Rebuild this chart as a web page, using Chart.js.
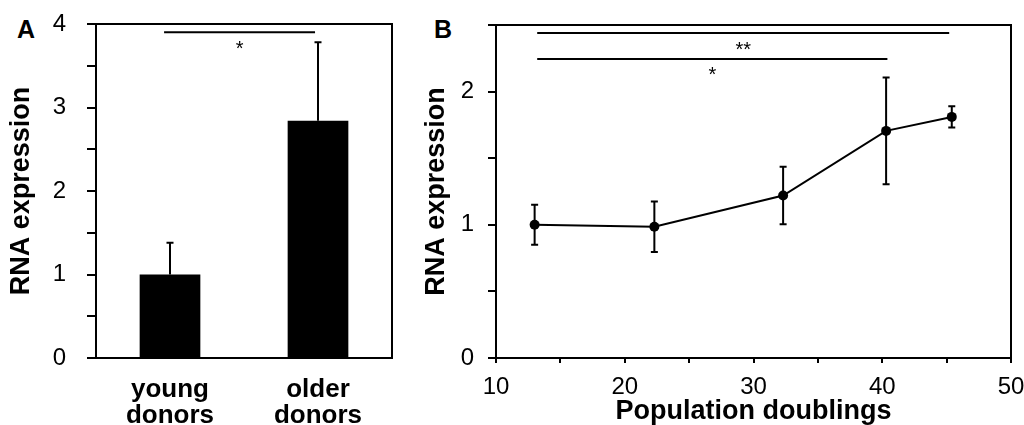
<!DOCTYPE html>
<html lang="en">
<head>
  <meta charset="UTF-8">
  <title>RNA expression</title>
  <script src="https://cdn.jsdelivr.net/npm/chart.js"></script>
  <style>
    body {
      margin: 0;
      background: #fff;
      width: 1024px;
      height: 425px;
      overflow: hidden;
      position: relative;
      font-family: Arial, "Liberation Sans", sans-serif;
    }
    .panel-label {
      position: absolute;
      font-size: 25px;
      line-height: 25px;
      font-weight: bold;
      color: #000;
    }
    #panelA { position: absolute; left: 0; top: 0; }
    #panelB { position: absolute; left: 400px; top: 0; }
  </style>
</head>
<body>
  <div class="panel-label" style="left:17px; top:17px;">A</div>
  <div class="panel-label" style="left:434px; top:17px;">B</div>
  <canvas id="panelA" width="400" height="425"></canvas>
  <canvas id="panelB" width="624" height="425"></canvas>

  <script>
    // Panel A: young vs older donors
    const donorGroups = [['young', 'donors'], ['older', 'donors']];
    const donorMeans = [1.0, 2.84];
    const donorErrors = [0.38, 0.94];
    const donorSig = [{ from: -0.04, to: 0.98, y: 3.9, label: '*' }];

    // Panel B: expression over population doublings
    const doublings = [13.0, 22.3, 32.3, 40.3, 45.4];
    const doublingMeans = [1.0, 0.985, 1.22, 1.705, 1.81];
    const doublingErrors = [0.15, 0.19, 0.215, 0.40, 0.08];
    const doublingSig = [
      { from: 13.2, to: 45.2, y: 2.44, label: '**' },
      { from: 13.2, to: 40.4, y: 2.245, label: '*' }
    ];

    const FONT = 'Arial, "Liberation Sans", sans-serif';
    Chart.defaults.font.family = FONT;
    Chart.defaults.color = '#000';

    // frame around the plot area
    const framePlugin = {
      id: 'frame',
      afterDraw(chart) {
        const a = chart.chartArea;
        const ctx = chart.ctx;
        ctx.save();
        ctx.strokeStyle = '#000';
        ctx.lineWidth = 2;
        ctx.beginPath();
        ctx.moveTo(a.left, a.top);
        ctx.lineTo(a.right, a.top);
        ctx.lineTo(a.right, a.bottom);
        ctx.stroke();
        ctx.restore();
      }
    };

    // error bars + significance brackets, drawn through the chart scales
    function makeAnnotations(xs, means, errs, sigs, upOnly) {
      return {
        id: 'annotations',
        afterDatasetsDraw(chart) {
          const ctx = chart.ctx;
          const xScale = chart.scales.x;
          const yScale = chart.scales.y;
          ctx.save();
          ctx.strokeStyle = '#000';
          ctx.lineWidth = 2;
          means.forEach((m, i) => {
            const x = xScale.getPixelForValue(xs[i]);
            const yTop = yScale.getPixelForValue(m + errs[i]);
            const yBot = yScale.getPixelForValue(upOnly ? m : m - errs[i]);
            ctx.beginPath();
            ctx.moveTo(x, yTop);
            ctx.lineTo(x, yBot);
            ctx.moveTo(x - 3.5, yTop);
            ctx.lineTo(x + 3.5, yTop);
            if (!upOnly) {
              ctx.moveTo(x - 3.5, yBot);
              ctx.lineTo(x + 3.5, yBot);
            }
            ctx.stroke();
          });
          ctx.lineWidth = 2;
          ctx.fillStyle = '#000';
          ctx.font = '20px ' + FONT;
          ctx.textAlign = 'center';
          ctx.textBaseline = 'top';
          sigs.forEach(s => {
            const x1 = xScale.getPixelForValue(s.from);
            const x2 = xScale.getPixelForValue(s.to);
            const y = yScale.getPixelForValue(s.y);
            ctx.beginPath();
            ctx.moveTo(x1, y);
            ctx.lineTo(x2, y);
            ctx.stroke();
            ctx.fillText(s.label, (x1 + x2) / 2, y + 7);
          });
          ctx.restore();
        }
      };
    }

    const axisTitleFont = { size: 27, weight: 'bold', lineHeight: 1 };

    // keep the plot area exactly where the layout padding puts it
    function fixY(scale) {
      scale.width = 96;
      scale.paddingTop = 0;
      scale.paddingBottom = 0;
    }
    function fixX(scale) {
      scale.height = 67;
      scale.paddingLeft = 0;
      scale.paddingRight = 0;
    }

    // ---- Panel A ----
    new Chart(document.getElementById('panelA').getContext('2d'), {
      type: 'bar',
      data: {
        labels: donorGroups,
        datasets: [{
          data: donorMeans,
          backgroundColor: '#000',
          borderWidth: 0,
          barPercentage: 0.41,
          categoryPercentage: 1
        }]
      },
      options: {
        responsive: false,
        animation: false,
        layout: { padding: { top: 24, right: 8, left: 0, bottom: 0 } },
        plugins: { legend: { display: false }, tooltip: { enabled: false } },
        scales: {
          x: {
            grid: { display: false, drawTicks: false },
            border: { display: true, color: '#000', width: 2 },
            ticks: {
              color: '#000',
              padding: 19,
              maxRotation: 0,
              font: { size: 26, weight: 'bold', lineHeight: 1 }
            },
            afterFit: fixX
          },
          y: {
            min: 0,
            max: 4,
            grid: { drawOnChartArea: false, drawTicks: true, tickLength: 9, color: '#000', lineWidth: 2 },
            border: { display: true, color: '#000', width: 2 },
            ticks: {
              stepSize: 0.5,
              autoSkip: false,
              padding: 21,
              color: '#000',
              font: { size: 24 },
              callback: v => Number.isInteger(v) ? v : ''
            },
            title: {
              display: true,
              text: 'RNA expression',
              color: '#000',
              font: axisTitleFont,
              padding: { top: 8, bottom: 0 }
            },
            afterFit: fixY
          }
        }
      },
      plugins: [framePlugin, makeAnnotations([0, 1], donorMeans, donorErrors, donorSig, true)]
    });

    // ---- Panel B ----
    const points = doublings.map((d, i) => ({ x: d, y: doublingMeans[i] }));

    new Chart(document.getElementById('panelB').getContext('2d'), {
      type: 'line',
      data: {
        datasets: [{
          data: points,
          borderColor: '#000',
          borderWidth: 2,
          backgroundColor: '#000',
          pointRadius: 5,
          pointBorderWidth: 0,
          tension: 0
        }]
      },
      options: {
        responsive: false,
        animation: false,
        layout: { padding: { top: 25, right: 13, left: 0, bottom: 0 } },
        plugins: { legend: { display: false }, tooltip: { enabled: false } },
        scales: {
          x: {
            type: 'linear',
            min: 10,
            max: 50,
            grid: { drawOnChartArea: false, drawTicks: true, tickLength: 5, color: '#000', lineWidth: 2 },
            border: { display: true, color: '#000', width: 2 },
            ticks: {
              stepSize: 5,
              autoSkip: false,
              maxRotation: 0,
              padding: 10,
              color: '#000',
              font: { size: 24 },
              callback: v => v % 10 === 0 ? v : ''
            },
            title: {
              display: true,
              text: 'Population doublings',
              color: '#000',
              font: axisTitleFont,
              padding: { top: 0, bottom: 0 }
            },
            afterFit: fixX
          },
          y: {
            min: 0,
            max: 2.5,
            grid: { drawOnChartArea: false, drawTicks: true, tickLength: 8, color: '#000', lineWidth: 2 },
            border: { display: true, color: '#000', width: 2 },
            ticks: {
              stepSize: 0.5,
              autoSkip: false,
              padding: 14,
              color: '#000',
              font: { size: 24 },
              callback: v => Number.isInteger(v) ? v : ''
            },
            title: {
              display: true,
              text: 'RNA expression',
              color: '#000',
              font: axisTitleFont,
              padding: { top: 23, bottom: 0 }
            },
            afterFit: fixY
          }
        }
      },
      plugins: [framePlugin, makeAnnotations(doublings, doublingMeans, doublingErrors, doublingSig, false)]
    });
  </script>
</body>
</html>
